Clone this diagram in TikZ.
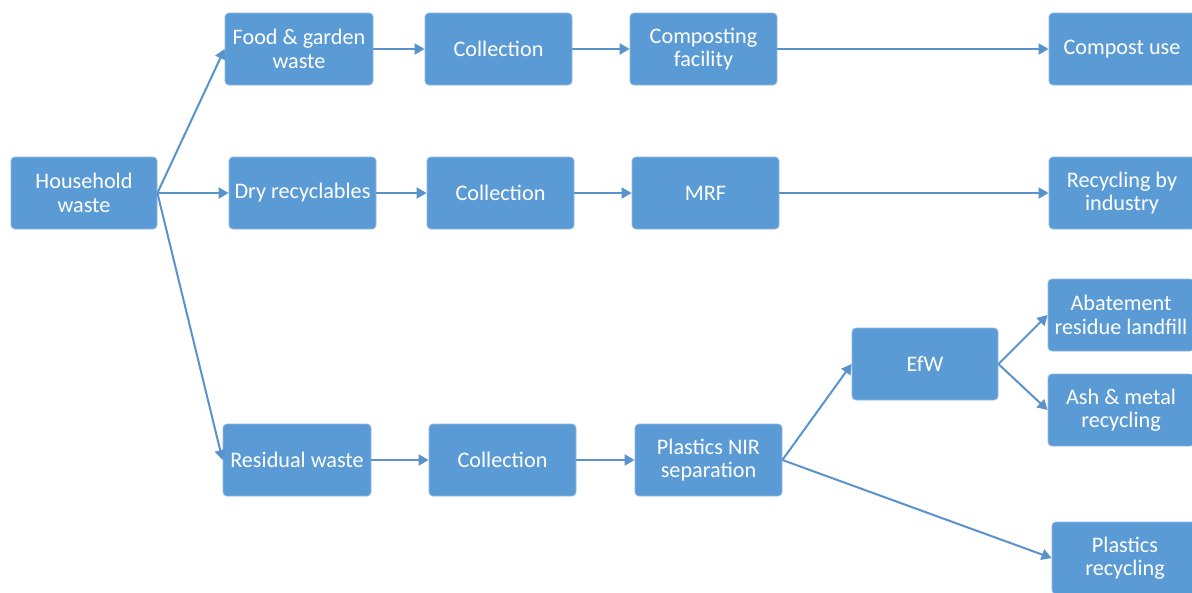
\documentclass[tikz,border=0pt]{standalone}
\usepackage{fontspec}
\setmainfont{Carlito}
\usetikzlibrary{arrows.meta}
\definecolor{boxblue}{HTML}{5B9BD5}
\definecolor{arrowblue}{HTML}{5A92CC}
\tikzset{
  box/.style={rectangle, rounded corners=4pt, fill=boxblue, draw=boxblue!70!white, line width=0.8pt,
    text=white, minimum width=147pt, minimum height=72pt, inner sep=0pt, align=center,
    font=\fontsize{22.2}{23.5}\selectfont},
  flow/.style={draw=arrowblue, line width=2pt, -{Triangle[length=10pt,width=11pt]}}
}
\begin{document}
\begin{tikzpicture}[x=1pt,y=-1pt]
\fill[white] (0,0) rectangle (1192,592);
\useasboundingbox (0,0) rectangle (1192,592);
\clip (0,0) rectangle (1192,592);
\node[box, minimum width=146pt] (hh) at (84,193) {Household\\waste};
\node[box, minimum width=148pt] (food) at (299,49) {Food \& garden\\waste};
\node[box] (dry) at (302.5,193) {Dry recyclables};
\node[box, minimum width=148pt] (res) at (297,460) {Residual waste};
\node[box] (col1) at (498.5,49) {Collection};
\node[box] (col2) at (500.5,193) {Collection};
\node[box] (col3) at (502.5,460) {Collection};
\node[box] (comp) at (703.5,49) {Composting\\facility};
\node[box] (mrf) at (705.5,193) {MRF};
\node[box] (nir) at (708.5,460) {Plastics NIR\\separation};
\node[box, minimum width=146pt] (cuse) at (1122,49) {Compost use};
\node[box, minimum width=146pt] (rind) at (1122,193) {Recycling by\\industry};
\node[box, minimum width=146pt] (efw) at (925,364) {EfW};
\node[box, minimum width=146pt] (abat) at (1121,315) {Abatement\\residue landfill};
\node[box, minimum width=146pt] (ash) at (1121,410) {Ash \& metal\\recycling};
\node[box, minimum width=146pt] (prec) at (1125,558) {Plastics\\recycling};

\draw[flow] (hh.east) -- (food.west);
\draw[flow] (hh.east) -- (dry.west);
\draw[flow] (hh.east) -- (res.west);
\draw[flow] (food) -- (col1);
\draw[flow] (col1) -- (comp);
\draw[flow] (comp) -- (cuse);
\draw[flow] (dry) -- (col2);
\draw[flow] (col2) -- (mrf);
\draw[flow] (mrf) -- (rind);
\draw[flow] (res) -- (col3);
\draw[flow] (col3) -- (nir);
\draw[flow] (nir.east) -- (efw.west);
\draw[flow] (nir.east) -- (prec.west);
\draw[flow] (efw.east) -- (abat.west);
\draw[flow] (efw.east) -- (ash.west);
\end{tikzpicture}
\end{document}
